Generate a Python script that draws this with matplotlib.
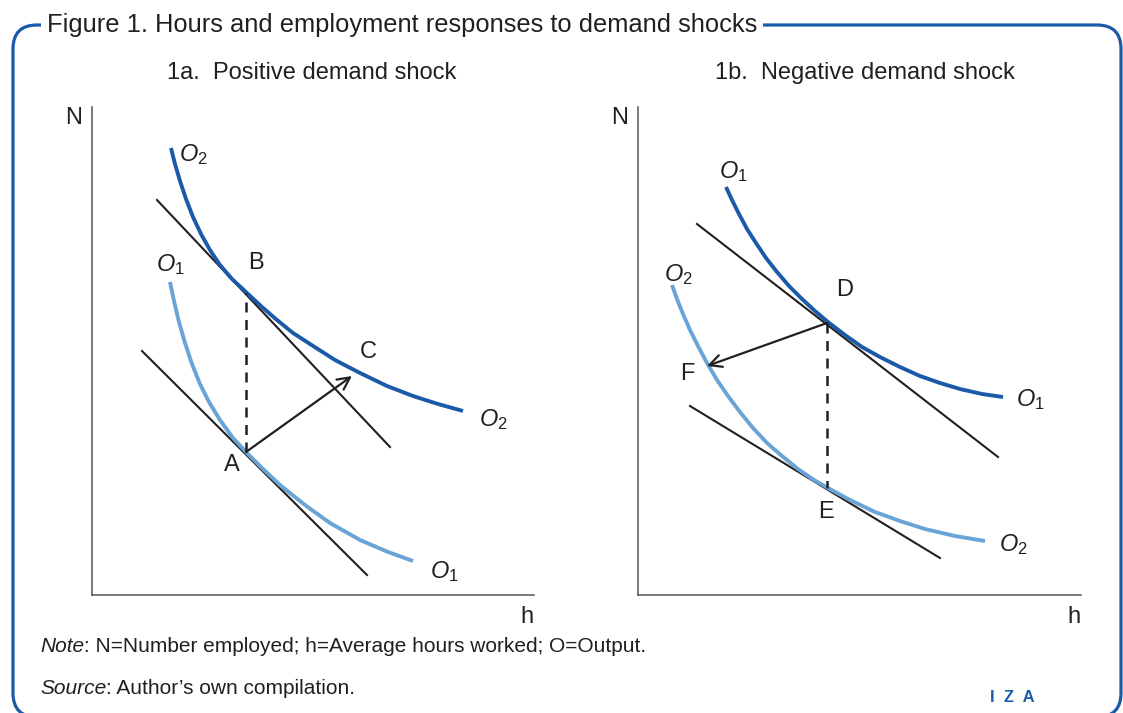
import matplotlib.pyplot as plt
from matplotlib.patches import FancyBboxPatch

plt.rcParams['font.family'] = ['Liberation Sans', 'DejaVu Sans']
plt.rcParams['mathtext.fontset'] = 'custom'
plt.rcParams['mathtext.rm'] = 'Liberation Sans'
plt.rcParams['mathtext.it'] = 'Liberation Sans:italic'

# panel 1a, hours h (x) against employment N (y)
a_o2_h = [79, 83, 88, 94, 101, 109, 118, 128, 140, 155, 170, 185, 201, 218, 243, 268, 295, 321, 346, 371]
a_o2_n = [447, 431, 414, 396, 378, 361, 345, 330, 316, 302, 288, 275, 262, 251, 235, 222, 209, 199, 191, 184]
a_o1_h = [78, 82, 87, 93, 100, 108, 117, 128, 141, 155, 171, 188, 213, 238, 268, 296, 321]
a_o1_n = [313, 294, 273, 252, 231, 211, 193, 175, 157, 142, 126, 110, 90, 72, 55, 43, 34]
a_tan_b_h = [65, 298]
a_tan_b_n = [395, 148]
a_tan_a_h = [50, 275]
a_tan_a_n = [244, 20]
a_pt_a = (154, 143)
a_pt_b = (154, 302)
a_pt_c = (260, 219)

# panel 1b
b_o1_h = [88, 94, 101, 109, 118, 128, 139, 151, 164, 177, 190, 207, 224, 242, 262, 282, 302, 322, 344, 365]
b_o1_n = [408, 395, 381, 366, 352, 337, 323, 309, 296, 284, 273, 260, 248, 238, 228, 219, 212, 206, 201, 198]
b_o2_h = [34, 39, 45, 52, 60, 69, 79, 90, 102, 115, 129, 144, 160, 176, 190, 212, 237, 262, 287, 317, 347]
b_o2_n = [310, 296, 281, 265, 249, 232, 215, 199, 183, 167, 152, 139, 126, 115, 107, 95, 83, 74, 66, 59, 54]
b_tan_d_h = [59, 360]
b_tan_d_n = [371, 138]
b_tan_e_h = [52, 302]
b_tan_e_n = [189, 37]
b_pt_d = (189, 272)
b_pt_e = (189, 107)
b_pt_f = (69, 229)

dark = '#1a5aa8'
light = '#6aa4d6'
ink = '#231f20'

W, H = 1123, 713
fig = plt.figure(figsize=(11.23, 7.13), dpi=100)

# rounded frame, y measured upwards from the bottom of the figure
fr = fig.add_axes([0, 0, 1, 1], zorder=-2)
fr.set_xlim(0, W)
fr.set_ylim(0, H)
fr.axis('off')
fr.add_patch(FancyBboxPatch((13, -4), 1108, 692, boxstyle='round,pad=0,rounding_size=24',
                            fill=False, edgecolor=dark, lw=2.3, clip_on=False))

# text layer in pixel coordinates, y measured downwards
bg = fig.add_axes([0, 0, 1, 1], zorder=-1)
bg.set_xlim(0, W)
bg.set_ylim(H, 0)
bg.axis('off')
bg.text(47, 25, 'Figure 1. Hours and employment responses to demand shocks', fontsize=18.4,
        color=ink, va='center', ha='left',
        bbox=dict(facecolor='white', edgecolor='none', pad=4))
bg.text(312, 73, '1a.  Positive demand shock', fontsize=17, color=ink, ha='center', va='center')
bg.text(865, 73, '1b.  Negative demand shock', fontsize=17, color=ink, ha='center', va='center')

t1 = bg.text(40, 647, 'Note', fontsize=15, style='italic', color=ink, va='center')
bg.annotate(': N=Number employed; h=Average hours worked; O=Output.', xy=(1, 0.5), xycoords=t1,
            fontsize=15, color=ink, va='center')
t2 = bg.text(40, 688, 'Source', fontsize=15, style='italic', color=ink, va='center')
bg.annotate(': Author\u2019s own compilation.', xy=(1, 0.5), xycoords=t2,
            fontsize=15, color=ink, va='center')
bg.text(990, 698, 'I  Z  A', fontsize=12, color=dark, fontweight='bold', va='center')


def panel(x0, x1, y0=107, y1=595):
    ax = fig.add_axes([x0 / W, 1 - y1 / H, (x1 - x0) / W, (y1 - y0) / H])
    ax.set_xlim(0, x1 - x0)
    ax.set_ylim(0, y1 - y0)
    ax.set_facecolor('none')
    for s in ['top', 'right']:
        ax.spines[s].set_visible(False)
    for s in ['left', 'bottom']:
        ax.spines[s].set_color('#555555')
        ax.spines[s].set_linewidth(1.1)
    ax.set_xticks([])
    ax.set_yticks([])
    ax.text(-18, 477, 'N', fontsize=17, color=ink, ha='center', va='center')
    ax.text(x1 - x0 - 7, -22, 'h', fontsize=17, color=ink, ha='center', va='center')
    return ax


def arrow(ax, start, end):
    ax.annotate('', xy=end, xytext=start,
                arrowprops=dict(arrowstyle='->', color=ink, lw=1.6, mutation_scale=22,
                                shrinkA=0, shrinkB=0))


def label(ax, x, y, s):
    ax.text(x, y, s, fontsize=17, color=ink, ha='center', va='center')


# 1a
ax1 = panel(92, 534)
ax1.plot(a_tan_b_h, a_tan_b_n, color=ink, lw=1.5)
ax1.plot(a_tan_a_h, a_tan_a_n, color=ink, lw=1.5)
ax1.plot(a_o2_h, a_o2_n, color=dark, lw=2.8, solid_capstyle='butt', solid_joinstyle='round')
ax1.plot(a_o1_h, a_o1_n, color=light, lw=2.8, solid_capstyle='butt', solid_joinstyle='round')
ax1.plot([a_pt_a[0], a_pt_b[0]], [a_pt_a[1], a_pt_b[1]], color=ink, lw=1.8, ls=(0, (4, 3)))
arrow(ax1, a_pt_a, a_pt_c)
label(ax1, 101, 440, '$O_2$')
label(ax1, 78, 330, '$O_1$')
label(ax1, 164, 332, 'B')
label(ax1, 276, 243, 'C')
label(ax1, 140, 130, 'A')
label(ax1, 401, 175, '$O_2$')
label(ax1, 352, 23, '$O_1$')

# 1b
ax2 = panel(638, 1081)
ax2.plot(b_tan_d_h, b_tan_d_n, color=ink, lw=1.5)
ax2.plot(b_tan_e_h, b_tan_e_n, color=ink, lw=1.5)
ax2.plot(b_o1_h, b_o1_n, color=dark, lw=2.8, solid_capstyle='butt', solid_joinstyle='round')
ax2.plot(b_o2_h, b_o2_n, color=light, lw=2.8, solid_capstyle='butt', solid_joinstyle='round')
ax2.plot([b_pt_d[0], b_pt_e[0]], [b_pt_d[1], b_pt_e[1]], color=ink, lw=1.8, ls=(0, (4, 3)))
arrow(ax2, b_pt_d, b_pt_f)
label(ax2, 95, 423, '$O_1$')
label(ax2, 40, 320, '$O_2$')
label(ax2, 207, 305, 'D')
label(ax2, 49, 221, 'F')
label(ax2, 188, 83, 'E')
label(ax2, 392, 195, '$O_1$')
label(ax2, 375, 50, '$O_2$')

fig.savefig('out.png', dpi=100)
